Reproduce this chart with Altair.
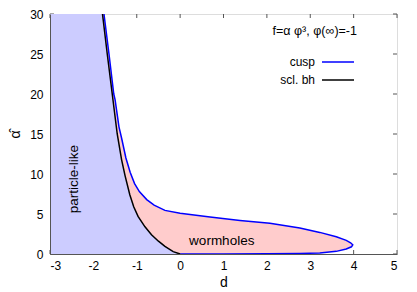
import altair as alt
import pandas as pd

# cusp curve (path order: from origin along lower branch, round the tip, up the upper branch)
cusp_d = [0.0, 1.0, 2.0, 2.76, 3.22, 3.6, 3.83, 3.95, 3.98, 3.93, 3.83, 3.6, 3.22, 2.76, 2.07, 1.38, 0.69, 0.0,
          -0.35, -0.6, -0.77, -0.94, -1.05, -1.15, -1.25, -1.35, -1.41, -1.50, -1.53, -1.64, -1.756]
cusp_a = [0.0, 0.01, 0.03, 0.06, 0.13, 0.33, 0.62, 0.9, 1.15, 1.4, 1.7, 2.15, 2.7, 3.25, 3.85, 4.2, 4.62, 5.1,
          5.45, 6.1, 6.8, 7.8, 8.8, 10.2, 12.0, 14.5, 15.9, 19.3, 20.0, 25.0, 30.0]

# scalarised black hole curve
bh_d = [0.0, -0.16, -0.35, -0.5, -0.66, -0.81, -0.97, -1.07, -1.16, -1.27, -1.35, -1.45, -1.565, -1.68, -1.79]
bh_a = [0.0, 0.3, 0.95, 1.6, 2.4, 3.4, 4.7, 5.9, 7.4, 9.8, 11.8, 15.0, 20.0, 25.0, 30.0]

x_ticks = [-3, -2, -1, 0, 1, 2, 3, 4, 5]
y_ticks = [0, 5, 10, 15, 20, 25, 30]

region_text = ["particle-like", "wormholes"]
region_d = [-2.45, 0.96]
region_a = [9.35, 1.66]
region_angle = [270, 0]

legend_title = "f=α φ³, φ(∞)=-1"
legend_labels = ["cusp", "scl. bh"]
legend_colors = ["#0000ff", "#000000"]

W, H = 347, 240
FONT = "Liberation Sans"

cusp = pd.DataFrame({"d": cusp_d, "a": cusp_a, "i": list(range(len(cusp_d)))})
bh = pd.DataFrame({"d": bh_d, "a": bh_a, "i": list(range(len(bh_d)))})
xt = pd.DataFrame({"d": x_ticks})
yt = pd.DataFrame({"a": y_ticks})
regions = pd.DataFrame({"t": region_text, "d": region_d, "a": region_a, "ang": region_angle})

xscale = alt.Scale(domain=[-3, 5], nice=False, zero=False)
yscale = alt.Scale(domain=[0, 30], nice=False, zero=False)

xaxis = alt.Axis(values=x_ticks, labelExpr="'' + datum.value", ticks=False, labelPadding=6,
                 labelFontSize=12, labelFont=FONT, labelColor="#000", domainColor="#555", grid=False,
                 titleFont=FONT, titleFontSize=14, titleFontWeight="normal",
                 titleColor="#000", titlePadding=4, zindex=1)
yaxis = alt.Axis(values=y_ticks, labelExpr="'' + datum.value", ticks=False, labelPadding=7,
                 labelFontSize=12, labelFont=FONT, labelColor="#000", domainColor="#555", grid=False,
                 titleFont=FONT, titleFontSize=14, titleFontWeight="normal",
                 titleColor="#000", titlePadding=7, zindex=1)


def X():
    return alt.X("d:Q", scale=xscale, axis=xaxis, title="d")


def Y():
    return alt.Y("a:Q", scale=yscale, axis=yaxis, title="α̂")


pink = alt.Chart(cusp).mark_area(orient="horizontal", color="#ffcccc", clip=True).encode(
    x=X(), x2=alt.datum(-3), y=Y())
blue = alt.Chart(bh).mark_area(orient="horizontal", color="#ccccff", clip=True).encode(
    x=X(), x2=alt.datum(-3), y=Y())

# inward ticks on all four sides (drawn under the fills, as in the reference)
tick_bottom = alt.Chart(xt).mark_rule(color="#555").encode(
    x=X(), y=alt.value(H), y2=alt.value(H - 4))
tick_top = alt.Chart(xt).mark_rule(color="#555").encode(
    x=X(), y=alt.value(0), y2=alt.value(4))
tick_left = alt.Chart(yt).mark_rule(color="#555").encode(
    y=Y(), x=alt.value(0), x2=alt.value(4))
tick_right = alt.Chart(yt).mark_rule(color="#555").encode(
    y=Y(), x=alt.value(W), x2=alt.value(W - 4))

cusp_line = alt.Chart(cusp).mark_line(color="#0000ff", strokeWidth=1.5, clip=True).encode(
    x=X(), y=Y(), order="i:Q")
bh_line = alt.Chart(bh).mark_line(color="#000000", strokeWidth=1.5, clip=True).encode(
    x=X(), y=Y(), order="i:Q")

region_labels = alt.Chart(regions).mark_text(font=FONT, fontSize=13.5, color="#000").encode(
    x=X(), y=Y(), text="t:N", angle=alt.Angle("ang:Q", scale=None))

leg_title = alt.Chart(pd.DataFrame({"t": [legend_title]})).mark_text(
    font=FONT, fontSize=12.5, align="right", baseline="alphabetic", color="#000").encode(
    text="t:N", x=alt.value(307), y=alt.value(21))
leg_text1 = alt.Chart(pd.DataFrame({"t": [legend_labels[0]]})).mark_text(
    font=FONT, fontSize=12, align="right", baseline="middle", color="#000").encode(
    text="t:N", x=alt.value(265), y=alt.value(48))
leg_text2 = alt.Chart(pd.DataFrame({"t": [legend_labels[1]]})).mark_text(
    font=FONT, fontSize=12, align="right", baseline="middle", color="#000").encode(
    text="t:N", x=alt.value(265), y=alt.value(66))
leg_line1 = alt.Chart(pd.DataFrame({"t": [legend_labels[0]]})).mark_rule(
    strokeWidth=1.5, color=legend_colors[0]).encode(x=alt.value(272), x2=alt.value(304), y=alt.value(48))
leg_line2 = alt.Chart(pd.DataFrame({"t": [legend_labels[1]]})).mark_rule(
    strokeWidth=1.5, color=legend_colors[1]).encode(x=alt.value(272), x2=alt.value(304), y=alt.value(66))

chart = alt.layer(
    tick_bottom, tick_top, tick_left, tick_right, pink, blue, cusp_line, bh_line, region_labels,
    leg_title, leg_text1, leg_text2, leg_line1, leg_line2
).properties(
    width=W, height=H,
    autosize=alt.AutoSizeParams(type="none"),
    padding={"left": 42, "top": 6, "right": 12, "bottom": 38},
).configure_view(stroke="#333", strokeWidth=1).configure(font=FONT)

chart.save("out.html", embed_options={"renderer": "svg", "actions": False})
